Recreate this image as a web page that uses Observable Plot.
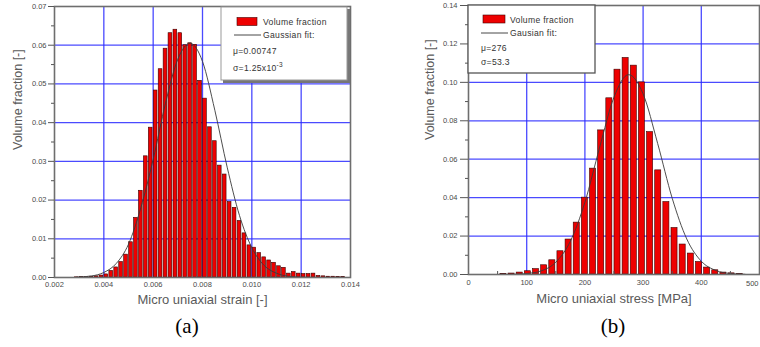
<!DOCTYPE html>
<html>
<head>
<meta charset="utf-8">
<script src="https://cdn.jsdelivr.net/npm/d3@7"></script>
<script src="https://cdn.jsdelivr.net/npm/@observablehq/plot@0.6"></script>
<style>
  html, body { margin: 0; padding: 0; background: #fff; }
  #wrap { position: relative; width: 760px; height: 347px; overflow: hidden; font-family: "Liberation Sans", Arial, sans-serif; }
  .panel { position: absolute; top: 0; }
  .overlay { position: absolute; left: 0; top: 0; pointer-events: none; }
  .cap { position: absolute; font-family: "Liberation Serif", "Times New Roman", serif; font-size: 21px; color: #000; transform: translate(-50%, -50%); }
</style>
</head>
<body>
<div id="wrap">
  <div id="left" class="panel" style="left:0"></div>
  <div id="right" class="panel" style="left:380px"></div>
  <div class="cap" style="left:187px; top:326px">(a)</div>
  <div class="cap" style="left:613px; top:326px">(b)</div>
</div>
<script>
// ---------- (a) strain histogram ----------
const strainCenters = [0.0029, 0.0031, 0.0033, 0.0035, 0.0037, 0.0039, 0.0041, 0.0043, 0.0045, 0.0047,
  0.0049, 0.0051, 0.0053, 0.0055, 0.0057, 0.0059, 0.0061, 0.0063, 0.0065, 0.0067,
  0.0069, 0.0071, 0.0073, 0.0075, 0.0077, 0.0079, 0.0081, 0.0083, 0.0085, 0.0087,
  0.0089, 0.0091, 0.0093, 0.0095, 0.0097, 0.0099, 0.0101, 0.0103, 0.0105, 0.0107,
  0.0109, 0.0111, 0.0113, 0.0115, 0.0117, 0.0119, 0.0121, 0.0123, 0.0125, 0.0127,
  0.0129, 0.0131, 0.0133, 0.0135, 0.0137];
const strainFractions = [0.00005, 0.0001, 0.0001, 0.0002, 0.0003, 0.0005, 0.0008, 0.0017, 0.0026, 0.0040,
  0.0059, 0.0091, 0.0154, 0.0224, 0.0313, 0.0387, 0.0483, 0.0538, 0.0591, 0.0631,
  0.0640, 0.0631, 0.0600, 0.0605, 0.0601, 0.0508, 0.0462, 0.0388, 0.0352, 0.0289,
  0.0266, 0.0195, 0.0180, 0.0146, 0.0114, 0.0083, 0.0077, 0.0063, 0.0052, 0.0044,
  0.0038, 0.0029, 0.0025, 0.0010, 0.0014, 0.0010, 0.0009, 0.0009, 0.0010, 0.0004,
  0.0003, 0.0002, 0.0002, 0.0001, 0.0001];
const strainFitX = [0.0029, 0.0035, 0.0040, 0.0045, 0.0050, 0.0055, 0.0060, 0.0065, 0.0070, 0.0075,
  0.0080, 0.0085, 0.0090, 0.0095, 0.0100, 0.0105, 0.0110, 0.0115, 0.0120, 0.0128];
const strainFitY = [0.0001, 0.0004, 0.0013, 0.0036, 0.0086, 0.0180, 0.0305, 0.0450, 0.0564, 0.0605,
  0.0558, 0.0432, 0.0285, 0.0160, 0.0077, 0.0031, 0.0011, 0.0003, 0.0001, 0.0000];
const strainTicks = [0.002, 0.004, 0.006, 0.008, 0.010, 0.012, 0.014];
const strainGrid = [0.004, 0.006, 0.008, 0.010, 0.012];
const strainFracTicks = [0.00, 0.01, 0.02, 0.03, 0.04, 0.05, 0.06, 0.07];
const strainFracMinor = [0.005, 0.015, 0.025, 0.035, 0.045, 0.055, 0.065];
const strainFracGrid = [0.01, 0.02, 0.03, 0.04, 0.05, 0.06];

// ---------- (b) stress histogram ----------
const stressCenters = [60, 74, 88, 102, 116, 130, 144, 158, 172, 186,
  200, 214, 228, 242, 256, 270, 284, 298, 312, 326,
  340, 354, 368, 382, 396, 410, 424, 438, 452, 466];
const stressFractions = [0.0003, 0.0005, 0.0010, 0.0017, 0.0028, 0.0048, 0.0074, 0.0121, 0.0182, 0.0270,
  0.0400, 0.0551, 0.0750, 0.0917, 0.1066, 0.1127, 0.1087, 0.1000, 0.0741, 0.0542,
  0.0377, 0.0242, 0.0156, 0.0109, 0.0065, 0.0036, 0.0022, 0.0010, 0.0006, 0.0003];
const stressFitX = [50, 75, 100, 125, 150, 175, 200, 225, 250, 275,
  300, 325, 350, 375, 400, 425, 450, 475];
const stressFitY = [0.0000, 0.0001, 0.0005, 0.0019, 0.0064, 0.0173, 0.0376, 0.0658, 0.0923, 0.1040,
  0.0940, 0.0682, 0.0397, 0.0185, 0.0069, 0.0021, 0.0005, 0.0001];
const stressTicks = [0, 100, 200, 300, 400];
const stressLastTickLabel = ["500"];
const stressMinor = [50, 150, 250, 350, 450];
const stressGrid = [100, 200, 300, 400];
const stressFracTicks = [0.00, 0.02, 0.04, 0.06, 0.08, 0.10, 0.12, 0.14];
const stressFracMinor = [0.01, 0.03, 0.05, 0.07, 0.09, 0.11, 0.13];
const stressFracGrid = [0.02, 0.04, 0.06, 0.08, 0.10, 0.12];

const strainBins = strainCenters.map((c, i) => ({c, v: strainFractions[i]}));
const strainFit = strainFitX.map((x, i) => ({x, y: strainFitY[i]}));
const stressBins = stressCenters.map((c, i) => ({c, v: stressFractions[i]}));
const stressFit = stressFitX.map((x, i) => ({x, y: stressFitY[i]}));

const gridStyle = {stroke: "#2a2aff", strokeOpacity: 0.85, strokeWidth: 1.3};
const tickFill = "#4a4a4a";
const titleFill = "#5a5a5a";
const font = "'Liberation Sans', Arial, sans-serif";

const left = Plot.plot({
  width: 380, height: 300,
  marginLeft: 54, marginRight: 30, marginTop: 6, marginBottom: 23,
  style: {fontFamily: font, background: "transparent", overflow: "visible"},
  x: {domain: [0.002, 0.014]},
  y: {domain: [0, 0.07]},
  marks: [
    Plot.gridX(strainGrid, gridStyle),
    Plot.gridY(strainFracGrid, gridStyle),
    Plot.rectY(strainBins, {x1: d => d.c - 0.000075, x2: d => d.c + 0.000075, y: "v",
      fill: "#ee0000", stroke: "#3a0000", strokeWidth: 0.6}),
    Plot.line(strainFit, {x: "x", y: "y", stroke: "#3a3a3a", strokeWidth: 0.9, curve: "monotone-x"}),
    Plot.frame({stroke: "#6e6e6e", strokeWidth: 1.6}),
    Plot.axisY(strainFracTicks, {tickSize: 6, tickPadding: 2, tickFormat: d3.format(".2f"),
      fontSize: 7.5, fill: tickFill, stroke: "#555", label: null}),
    Plot.axisY(strainFracMinor, {tickSize: 3, tickFormat: () => "", stroke: "#555", label: null}),
    Plot.axisX(strainTicks, {tickSize: 0, tickPadding: 4, tickFormat: d3.format(".3f"),
      fontSize: 7.5, fill: tickFill, label: null}),
    Plot.text(["Volume fraction [-]"], {frameAnchor: "left", rotate: -90, dx: -37, dy: 8,
      fontSize: 12.5, fill: titleFill, lineAnchor: "middle"}),
    Plot.text(["Micro uniaxial strain [-]"], {frameAnchor: "bottom", dy: 22,
      fontSize: 13, fill: titleFill, lineAnchor: "middle"})
  ]
});
document.getElementById("left").appendChild(left);

const right = Plot.plot({
  width: 380, height: 300,
  marginLeft: 88, marginRight: 1, marginTop: 5, marginBottom: 26,
  style: {fontFamily: font, background: "transparent", overflow: "visible"},
  x: {domain: [0, 500]},
  y: {domain: [0, 0.14]},
  marks: [
    Plot.gridX(stressGrid, gridStyle),
    Plot.gridY(stressFracGrid, gridStyle),
    Plot.rectY(stressBins, {x1: d => d.c - 5.2, x2: d => d.c + 5.2, y: "v",
      fill: "#ee0000", stroke: "#3a0000", strokeWidth: 0.6}),
    Plot.line(stressFit, {x: "x", y: "y", stroke: "#3a3a3a", strokeWidth: 0.9, curve: "monotone-x"}),
    Plot.frame({stroke: "#6e6e6e", strokeWidth: 1.6}),
    Plot.axisY(stressFracTicks, {tickSize: 8, tickPadding: 3, tickFormat: d3.format(".2f"),
      fontSize: 7.5, fill: tickFill, stroke: "#555", label: null}),
    Plot.axisY(stressFracMinor, {tickSize: 3, tickFormat: () => "", stroke: "#555", label: null}),
    Plot.axisX(stressTicks, {tickSize: 0, tickPadding: 5, tickFormat: d3.format("d"),
      fontSize: 7.5, fill: tickFill, label: null}),
    Plot.text(stressLastTickLabel, {frameAnchor: "bottom-right", dy: 9, dx: -1, textAnchor: "end",
      lineAnchor: "middle", fontSize: 7.5, fill: tickFill}),
    Plot.axisX(stressMinor, {tickSize: 3, tickFormat: () => "", stroke: "#555", label: null, dy: -3}),
    Plot.text(["Volume fraction [-]"], {frameAnchor: "left", rotate: -90, dx: -39, dy: 0,
      fontSize: 12.5, fill: titleFill, lineAnchor: "middle"}),
    Plot.text(["Micro uniaxial stress [MPa]"], {frameAnchor: "bottom", dy: 24,
      fontSize: 13, fill: titleFill, lineAnchor: "middle"})
  ]
});
document.getElementById("right").appendChild(right);

// ---------- legends (overlay) ----------
const ns = "http://www.w3.org/2000/svg";
const ov = document.createElementNS(ns, "svg");
ov.setAttribute("class", "overlay");
ov.setAttribute("width", 760);
ov.setAttribute("height", 347);
ov.innerHTML = `
  <g font-family="Liberation Sans, Arial, sans-serif" font-size="8.6" fill="#333" letter-spacing="0.3">
    <rect x="223" y="9" width="127" height="74" fill="#777"/>
    <rect x="221" y="7" width="126" height="73" fill="#fff" stroke="#999" stroke-width="1"/>
    <rect x="237" y="17.5" width="20" height="8" fill="#ee0000" stroke="#400" stroke-width="0.6"/>
    <text x="263" y="25">Volume fraction</text>
    <line x1="234" x2="261" y1="35" y2="35" stroke="#333" stroke-width="0.9"/>
    <text x="263" y="38">Gaussian fit:</text>
    <text x="233" y="53.5">μ=0.00747</text>
    <text x="233" y="71">σ=1.25x10<tspan dy="-4" font-size="6.5">-3</tspan></text>

    <rect x="468" y="5" width="127" height="68" fill="#fff" stroke="#555" stroke-width="1.3"/>
    <rect x="483" y="15" width="22" height="8" fill="#ee0000" stroke="#400" stroke-width="0.6"/>
    <text x="510" y="22.5">Volume fraction</text>
    <line x1="481" x2="508" y1="33" y2="33" stroke="#333" stroke-width="0.9"/>
    <text x="510" y="36">Gausian fit:</text>
    <text x="481" y="51">μ=276</text>
    <text x="481" y="65">σ=53.3</text>
  </g>`;
document.getElementById("wrap").appendChild(ov);
</script>
</body>
</html>
